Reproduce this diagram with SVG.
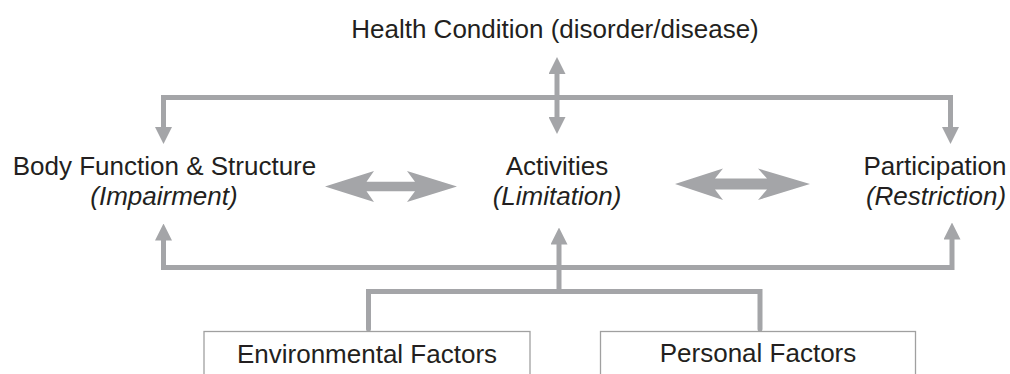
<svg xmlns="http://www.w3.org/2000/svg" width="1010" height="374" viewBox="0 0 1010 374">
  <style>
    .t { font-family: "Liberation Sans", Arial, sans-serif; font-size: 26px; fill: #231f20; text-anchor: middle; }
    .i { font-style: italic; }
    .ln { fill: none; stroke: #a4a5a8; stroke-width: 5; stroke-linejoin: miter; }
    .dbl { fill: #a4a5a8; stroke: none; }
    .box { fill: #ffffff; stroke: #a0a0a0; stroke-width: 1.3; }
  </style>
  <defs>
    <marker id="ah" viewBox="0 0 17 17" markerWidth="17" markerHeight="17" refX="0.5" refY="8.5" orient="auto-start-reverse" markerUnits="userSpaceOnUse">
      <path d="M0,0 L17,8.5 L0,17 Z" fill="#a4a5a8"/>
    </marker>
  </defs>
  <rect width="1010" height="374" fill="#ffffff"/>

  <g id="connectors">
    <path class="ln" d="M163.5,127.5 L163.5,97.5 L950.5,97.5 L950.5,127.5" marker-start="url(#ah)" marker-end="url(#ah)"/>
    <path class="ln" d="M557,73.5 L557,117.5" marker-start="url(#ah)" marker-end="url(#ah)"/>
    <path class="ln" d="M163.5,240 L163.5,267.5 L952,267.5 L952,239" marker-start="url(#ah)" marker-end="url(#ah)"/>
    <path class="ln" d="M559,291.5 L559,244" marker-end="url(#ah)"/>
    <path class="ln" d="M368.5,329 L368.5,291.5 L760,291.5 L760,329" stroke-linecap="round"/>
    <polygon class="dbl" points="325,186.5 374,171 366.5,181.8 415,181.8 407,171 457,186.5 407,202 415,191.2 366.5,191.2 374,202"/>
    <polygon class="dbl" points="675,184 723,168.5 715,178.5 767,178.5 758,168.5 810,184 758,200 767,189.5 715,189.5 723,200"/>
  </g>

  <g id="health-condition">
    <text class="t" x="555" y="38">Health Condition (disorder/disease)</text>
  </g>
  <g id="body-function">
    <text class="t" x="164.5" y="175">Body Function &amp; Structure</text>
    <text class="t i" x="164" y="205">(Impairment)</text>
  </g>
  <g id="activities">
    <text class="t" x="557" y="175">Activities</text>
    <text class="t i" x="557" y="205">(Limitation)</text>
  </g>
  <g id="participation">
    <text class="t" x="935" y="175">Participation</text>
    <text class="t i" x="936" y="205">(Restriction)</text>
  </g>
  <g id="environmental-factors">
    <rect class="box" x="204" y="331.5" width="326" height="60"/>
    <text class="t" x="367" y="363">Environmental Factors</text>
  </g>
  <g id="personal-factors">
    <rect class="box" x="600.5" y="331.5" width="315" height="60"/>
    <text class="t" x="758" y="362">Personal Factors</text>
  </g>
</svg>
